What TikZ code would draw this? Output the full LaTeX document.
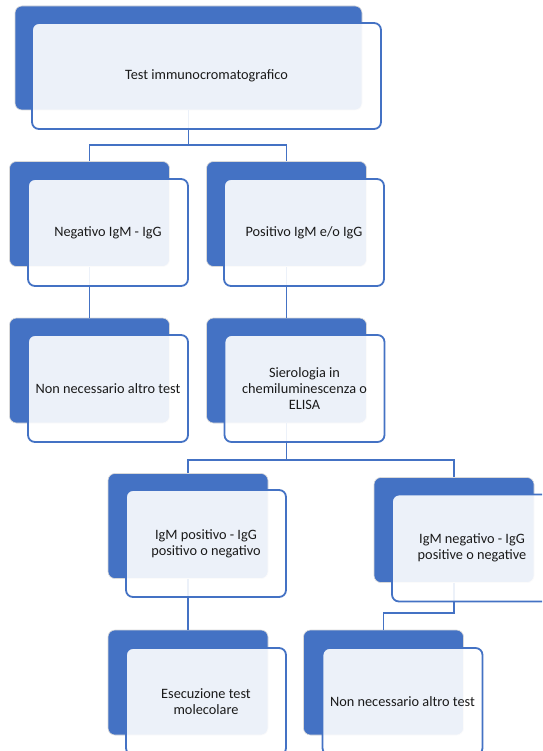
\documentclass[tikz,border=0pt]{standalone}
\usepackage{fontspec}
\setmainfont{Carlito}
\definecolor{obl}{HTML}{4472C4}
\definecolor{txt}{HTML}{1A1A1A}
\tikzset{
  backbox/.style={rectangle, rounded corners=7pt, fill=obl, draw=black!15, line width=0.6pt,
    minimum width=160pt, minimum height=105pt, inner sep=0pt},
  frontbox/.style={rectangle, rounded corners=7pt, fill=white, fill opacity=0.9, text opacity=1,
    draw=obl, line width=1.8pt, minimum width=160pt, minimum height=107pt, inner sep=2pt,
    align=center, text=txt, font=\fontsize{14.3}{16}\selectfont},
  link/.style={draw=obl, line width=1.8pt}
}
\begin{document}
\begin{tikzpicture}[x=1pt,y=-1pt]
\clip (0,0) rectangle (542,751);
\fill[white] (0,0) rectangle (542,751);
% back boxes
\node[backbox, minimum width=347pt, minimum height=104pt] (b1) at (188.5,58) {};
\node[backbox] (b2) at (89.5,214) {};
\node[backbox] (b3) at (286.5,214) {};
\node[backbox] (b4) at (89.5,370.5) {};
\node[backbox] (b5) at (286.5,370.5) {};
\node[backbox] (b6) at (188,526) {};
\node[backbox] (b7) at (454,530) {};
\node[backbox] (b8) at (188,682.5) {};
\node[backbox] (b9) at (383.5,682.5) {};
% connectors
\draw[link] (b1.south) -- ++(0,35) -| (b2.north);
\draw[link] (b1.south) -- ++(0,35) -| (b3.north);
\draw[link] (b2.south) -- (b4.north);
\draw[link] (b3.south) -- (b5.north);
\draw[link] (b5.south) -- ++(0,37) -| (b6.north);
\draw[link] (b5.south) -- ++(0,37) -| (b7.north);
\draw[link] (b6.south) -- (b8.north);
\draw[link] (b7.south) -- ++(0,30) -| (b9.north);
% front boxes
\node[frontbox, minimum width=349pt, minimum height=106pt] (f1) at (206.5,76) {Test immunocromatografico};
\node[frontbox] (f2) at (108,232.5) {Negativo IgM - IgG};
\node[frontbox] (f3) at (304,232.5) {Positivo IgM e/o IgG};
\node[frontbox] (f4) at (108,388.5) {Non necessario altro test};
\node[frontbox] (f5) at (304.5,388.5) {Sierologia in\\chemiluminescenza o\\ELISA};
\node[frontbox] (f6) at (206,543.5) {IgM positivo - IgG\\positivo o negativo};
\node[frontbox] (f7) at (472,548) {IgM negativo - IgG\\positive o negative};
\node[frontbox] (f8) at (206,701.5) {Esecuzione test\\molecolare};
\node[frontbox] (f9) at (402.5,701.5) {Non necessario altro test};
\end{tikzpicture}
\end{document}
